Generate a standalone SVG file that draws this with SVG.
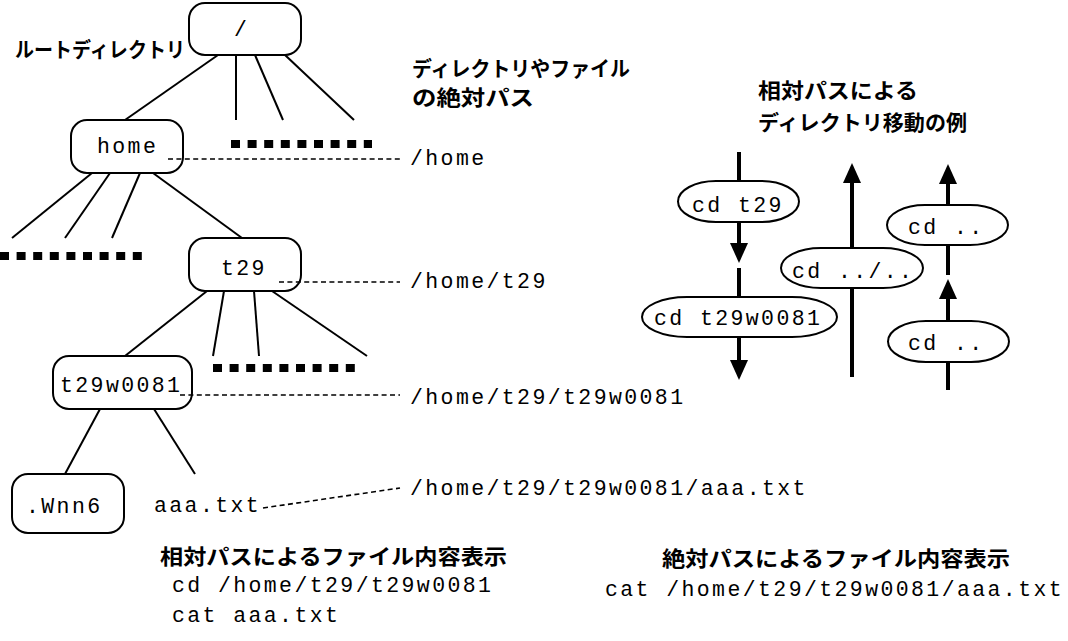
<svg xmlns="http://www.w3.org/2000/svg" width="1068" height="641" viewBox="0 0 1068 641">
<style>
.box{fill:#fff;stroke:#000;stroke-width:2}
.pill{fill:#fff;stroke:#000;stroke-width:2}
.mono{font-family:"Liberation Mono","Courier New",monospace;font-size:21.5px;letter-spacing:2.4px;fill:#000}
.jp{font-family:"Noto Sans CJK JP","Noto Sans",sans-serif;font-weight:700;font-size:21px;fill:#000}
.tree{stroke:#000;stroke-width:2;fill:none}
.dot{stroke:#000;stroke-width:1.6;stroke-dasharray:5 3.4;fill:none}
.sq{stroke:#000;stroke-width:8;stroke-dasharray:9 7.6;fill:none}
.arr{stroke:#000;stroke-width:4;fill:none}
</style>
<defs>
<marker id="ah" markerUnits="userSpaceOnUse" markerWidth="20" markerHeight="18" refX="0" refY="9" orient="auto" viewBox="0 0 20 18">
<path d="M0,0 L20,9 L0,18 z" fill="#000"/>
</marker>
</defs>
<rect width="1068" height="641" fill="#fff"/>

<g id="labels">
<text class="jp" x="15" y="57" textLength="170" lengthAdjust="spacingAndGlyphs">ルートディレクトリ</text>
<text class="jp" x="412" y="76" textLength="218" lengthAdjust="spacingAndGlyphs">ディレクトリやファイル</text>
<text class="jp" x="412" y="105" textLength="122" lengthAdjust="spacingAndGlyphs">の絶対パス</text>
<text class="jp" x="758" y="98" textLength="160" lengthAdjust="spacingAndGlyphs">相対パスによる</text>
<text class="jp" x="758" y="130" textLength="209" lengthAdjust="spacingAndGlyphs">ディレクトリ移動の例</text>
<text class="jp" x="160" y="564" textLength="347" lengthAdjust="spacingAndGlyphs">相対パスによるファイル内容表示</text>
<text class="jp" x="662" y="566" textLength="348" lengthAdjust="spacingAndGlyphs">絶対パスによるファイル内容表示</text>
<text class="mono" x="410" y="165">/home</text>
<text class="mono" x="410" y="288">/home/t29</text>
<text class="mono" x="410" y="404">/home/t29/t29w0081</text>
<text class="mono" x="410" y="495">/home/t29/t29w0081/aaa.txt</text>
<text class="mono" x="172" y="592">cd /home/t29/t29w0081</text>
<text class="mono" x="172" y="622">cat aaa.txt</text>
<text class="mono" x="605" y="596">cat /home/t29/t29w0081/aaa.txt</text>
</g>

<g id="tree-lines">
<line class="tree" x1="218" y1="55" x2="125" y2="120"/>
<line class="tree" x1="236" y1="55" x2="236" y2="120"/>
<line class="tree" x1="255" y1="55" x2="283" y2="120"/>
<line class="tree" x1="285" y1="55" x2="354" y2="120"/>
<line class="tree" x1="92" y1="173" x2="12" y2="238"/>
<line class="tree" x1="110" y1="173" x2="65" y2="238"/>
<line class="tree" x1="140" y1="173" x2="112" y2="238"/>
<line class="tree" x1="153" y1="173" x2="242" y2="238"/>
<line class="tree" x1="207" y1="291" x2="125" y2="356"/>
<line class="tree" x1="224" y1="291" x2="213" y2="356"/>
<line class="tree" x1="254" y1="291" x2="259" y2="356"/>
<line class="tree" x1="272" y1="291" x2="367" y2="356"/>
<line class="tree" x1="100" y1="409" x2="65" y2="474"/>
<line class="tree" x1="154" y1="409" x2="195" y2="474"/>
<line class="sq" x1="231" y1="144" x2="372" y2="144"/>
<line class="sq" x1="0" y1="256" x2="142" y2="256"/>
<line class="sq" x1="213" y1="368" x2="355" y2="368"/>
</g>

<g id="node-root"><rect class="box" x="189" y="3" width="112" height="52" rx="16"/><text class="mono" x="234" y="36">/</text></g>
<g id="node-home"><rect class="box" x="71" y="120" width="112" height="53" rx="16"/><text class="mono" x="97" y="153">home</text></g>
<g id="node-t29"><rect class="box" x="189" y="238" width="112" height="53" rx="16"/><text class="mono" x="221" y="275">t29</text></g>
<g id="node-t29w0081"><rect class="box" x="53" y="356" width="139" height="53" rx="16"/><text class="mono" x="60" y="392">t29w0081</text></g>
<g id="node-wnn6"><rect class="box" x="12" y="474" width="112" height="59" rx="16"/><text class="mono" x="26" y="513">.Wnn6</text></g>
<g id="node-aaa"><text class="mono" x="154" y="512">aaa.txt</text></g>

<g id="connectors">
<line class="dot" x1="168" y1="159" x2="400" y2="159"/>
<line class="dot" x1="279" y1="282" x2="400" y2="282"/>
<line class="dot" x1="180" y1="395" x2="400" y2="395"/>
<line class="dot" x1="263" y1="508" x2="400" y2="488"/>
<line class="arr" x1="739" y1="152" x2="739" y2="182"/>
<line class="arr" x1="739" y1="221" x2="739" y2="243" marker-end="url(#ah)"/>
<line class="arr" x1="739" y1="268" x2="739" y2="298"/>
<line class="arr" x1="739" y1="336" x2="739" y2="360" marker-end="url(#ah)"/>
<line class="arr" x1="852" y1="377" x2="852" y2="287"/>
<line class="arr" x1="852" y1="249" x2="852" y2="183" marker-end="url(#ah)"/>
<line class="arr" x1="948" y1="206" x2="948" y2="184" marker-end="url(#ah)"/>
<line class="arr" x1="948" y1="244" x2="948" y2="275"/>
<line class="arr" x1="948" y1="322" x2="948" y2="299" marker-end="url(#ah)"/>
<line class="arr" x1="948" y1="390" x2="948" y2="361"/>
</g>

<g id="cmd-cd-t29"><rect class="pill" x="678" y="181" width="121" height="41" rx="38" ry="20.5"/><text class="mono" x="692" y="212">cd t29</text></g>
<g id="cmd-cd-t29w0081"><rect class="pill" x="642" y="297" width="195" height="40" rx="45" ry="20"/><text class="mono" x="654" y="325">cd t29w0081</text></g>
<g id="cmd-cd-up2"><rect class="pill" x="781" y="248" width="142" height="40" rx="40" ry="20"/><text class="mono" x="792" y="278">cd ../..</text></g>
<g id="cmd-cd-up-a"><rect class="pill" x="887" y="205" width="121" height="40" rx="38" ry="20"/><text class="mono" x="908" y="234">cd ..</text></g>
<g id="cmd-cd-up-b"><rect class="pill" x="888" y="321" width="121" height="41" rx="38" ry="20.5"/><text class="mono" x="908" y="350">cd ..</text></g>
</svg>
